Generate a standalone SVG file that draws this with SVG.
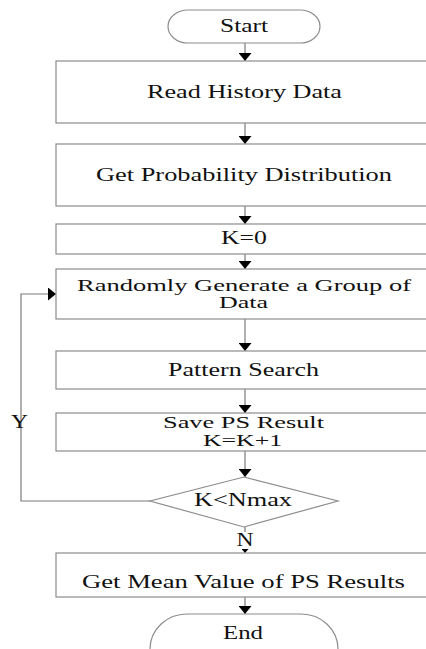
<svg xmlns="http://www.w3.org/2000/svg" width="426" height="649" viewBox="0 0 426 649">
<defs>
<style>
.box{fill:#fff;stroke:#8c8c8c;stroke-width:1.2}
.ln{fill:none;stroke:#7a7a7a;stroke-width:1.2}
.t{font-family:'Liberation Serif','Times New Roman',serif;font-size:18px;fill:#111;text-anchor:middle}
.t2{font-size:16px}
</style>
<marker id="ah" markerUnits="userSpaceOnUse" markerWidth="8" markerHeight="13" refX="8" refY="6.5" orient="auto">
<path d="M0,0 L8,6.5 L0,13 z" fill="#000"/>
</marker>
<marker id="ahs" markerUnits="userSpaceOnUse" markerWidth="4" markerHeight="7" refX="4" refY="3.5" orient="auto">
<path d="M0,0 L4,3.5 L0,7 z" fill="#000"/>
</marker>
</defs>
<rect width="426" height="649" fill="#fff"/>
<g id="connectors">
<path class="ln" d="M245,43 V61" marker-end="url(#ah)"/>
<path class="ln" d="M245,123 V144" marker-end="url(#ah)"/>
<path class="ln" d="M245,206 V224" marker-end="url(#ah)"/>
<path class="ln" d="M245,254 V269" marker-end="url(#ah)"/>
<path class="ln" d="M245,319 V351" marker-end="url(#ah)"/>
<path class="ln" d="M245,389 V413" marker-end="url(#ah)"/>
<path class="ln" d="M245,451 V477" marker-end="url(#ah)"/>
<path class="ln" d="M245,527 V532"/>
<path class="ln" d="M245,549 V553" marker-end="url(#ahs)"/>
<path class="ln" d="M245,597 V614" marker-end="url(#ah)"/>
<path class="ln" d="M150,501 H21 V294 H56" marker-end="url(#ah)"/>
<text class="t" x="245" y="546" textLength="17" lengthAdjust="spacingAndGlyphs">N</text>
<text class="t" x="19.5" y="428" textLength="17" lengthAdjust="spacingAndGlyphs">Y</text>
</g>
<g id="start">
<rect class="box" x="168" y="10" width="152" height="33" rx="20" ry="16.5"/>
<text class="t" x="244" y="32" textLength="48" lengthAdjust="spacingAndGlyphs">Start</text>
</g>
<g id="read">
<rect class="box" x="56" y="61" width="378" height="62"/>
<text class="t" x="244.5" y="97.5" textLength="195" lengthAdjust="spacingAndGlyphs">Read History Data</text>
</g>
<g id="prob">
<rect class="box" x="56" y="144" width="378" height="62"/>
<text class="t" x="244" y="181" textLength="296" lengthAdjust="spacingAndGlyphs">Get Probability Distribution</text>
</g>
<g id="k0">
<rect class="box" x="56" y="224" width="378" height="30"/>
<text class="t" x="244" y="244" textLength="46" lengthAdjust="spacingAndGlyphs">K=0</text>
</g>
<g id="random">
<rect class="box" x="56" y="269" width="378" height="50"/>
<text class="t t2" x="244" y="291" textLength="334" lengthAdjust="spacingAndGlyphs">Randomly Generate a Group of</text>
<text class="t t2" x="243.5" y="307.5" textLength="49" lengthAdjust="spacingAndGlyphs">Data</text>
</g>
<g id="pattern">
<rect class="box" x="56" y="351" width="378" height="38"/>
<text class="t" x="243.5" y="376" textLength="151" lengthAdjust="spacingAndGlyphs">Pattern Search</text>
</g>
<g id="save">
<rect class="box" x="56" y="413" width="378" height="38"/>
<text class="t t2" x="243.5" y="428" textLength="161" lengthAdjust="spacingAndGlyphs">Save PS Result</text>
<text class="t t2" x="242.5" y="446" textLength="79" lengthAdjust="spacingAndGlyphs">K=K+1</text>
</g>
<g id="decision">
<polygon class="box" points="244,477 338,501 244,527 150,501"/>
<text class="t" x="243" y="506" textLength="98" lengthAdjust="spacingAndGlyphs">K&lt;Nmax</text>
</g>
<g id="mean">
<rect class="box" x="56" y="553" width="378" height="44"/>
<text class="t" x="243.5" y="588" textLength="323" lengthAdjust="spacingAndGlyphs">Get Mean Value of PS Results</text>
</g>
<g id="end">
<rect class="box" x="150" y="614" width="188" height="70" rx="37" ry="35"/>
<text class="t" x="243" y="639" textLength="40" lengthAdjust="spacingAndGlyphs">End</text>
</g>
</svg>
